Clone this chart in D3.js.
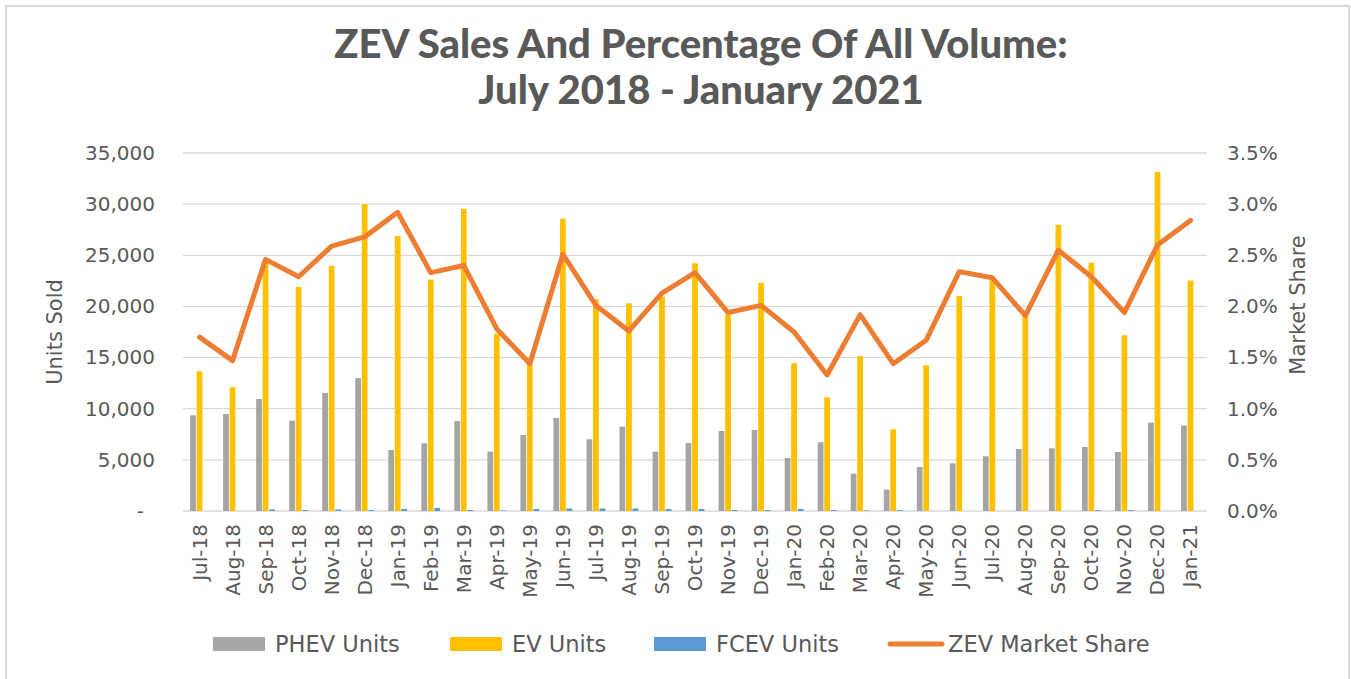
<!DOCTYPE html>
<html>
<head>
<meta charset="utf-8">
<script src="https://cdn.jsdelivr.net/npm/d3@7"></script>
<style>
  body { margin: 0; background: #fff; }
  .tick text { font-family: "DejaVu Sans", sans-serif; fill: #595959; }
</style>
</head>
<body>
<script>

// data
var months = ["Jul-18","Aug-18","Sep-18","Oct-18","Nov-18","Dec-18","Jan-19","Feb-19","Mar-19","Apr-19","May-19","Jun-19",
              "Jul-19","Aug-19","Sep-19","Oct-19","Nov-19","Dec-19","Jan-20","Feb-20","Mar-20","Apr-20","May-20","Jun-20",
              "Jul-20","Aug-20","Sep-20","Oct-20","Nov-20","Dec-20","Jan-21"];

var phevUnits = [9360, 9480, 10950, 8830, 11540, 13000, 5960, 6620, 8800, 5800, 7430, 9090,
                 7010, 8250, 5800, 6650, 7820, 7920, 5180, 6720, 3650, 2090, 4300, 4660,
                 5350, 6060, 6130, 6260, 5770, 8640, 8340];

var evUnits = [13660, 12090, 24300, 21900, 23950, 30010, 26890, 22620, 29530, 17340, 14400, 28580,
               20700, 20300, 20950, 24220, 19200, 22320, 14440, 11120, 15150, 7990, 14240, 21020,
               22580, 19500, 27990, 24280, 17180, 33140, 22520];

var fcevUnits = [0, 0, 150, 100, 150, 100, 200, 300, 100, 50, 200, 250,
                 250, 250, 200, 200, 100, 100, 200, 100, 50, 100, 0, 0,
                 0, 0, 0, 80, 80, 0, 0];

// ZEV market share, percent
var zevShare = [1.70, 1.47, 2.46, 2.29, 2.59, 2.68, 2.92, 2.33, 2.40, 1.78, 1.44, 2.51,
                2.01, 1.76, 2.13, 2.33, 1.94, 2.01, 1.75, 1.33, 1.92, 1.44, 1.67, 2.34,
                2.28, 1.91, 2.55, 2.29, 1.94, 2.60, 2.84];

var unitTicks = [0, 5000, 10000, 15000, 20000, 25000, 30000, 35000];
var shareTicks = [0, 0.5, 1.0, 1.5, 2.0, 2.5, 3.0, 3.5];

var seriesNames = ["PHEV Units", "EV Units", "FCEV Units"];
var seriesColors = ["#a5a5a5", "#ffc000", "#5b9bd5"];
var lineColor = "#ed7d31";

// build rows for the grouped bars
var rows = months.map(function(m, i) {
  return { month: m, values: [phevUnits[i], evUnits[i], fcevUnits[i]], share: zevShare[i] };
});

// dimensions
var W = 1351, H = 679;
var plot = {left: 183, right: 1207, top: 153, bottom: 511};

var svg = d3.select("body").append("svg")
    .attr("width", W)
    .attr("height", H);

// chart border
svg.append("rect")
    .attr("x", 6).attr("y", 6)
    .attr("width", 1343).attr("height", 700)
    .attr("fill", "#fff")
    .attr("stroke", "#d9d9d9")
    .attr("stroke-width", 2);

// scales
var x0 = d3.scaleBand().domain(months).range([plot.left, plot.right])
    .paddingInner(0.43).paddingOuter(0.215);
var x1 = d3.scaleBand().domain([0, 1, 2]).range([0, x0.bandwidth()]).paddingInner(0.12);
var yUnits = d3.scaleLinear().domain([0, 35000]).range([plot.bottom, plot.top]);
var yShare = d3.scaleLinear().domain([0, 3.5]).range([plot.bottom, plot.top]);

// gridlines
svg.append("g")
  .selectAll("line")
  .data(unitTicks)
  .enter().append("line")
    .attr("x1", plot.left).attr("x2", plot.right)
    .attr("y1", function(d) { return yUnits(d); })
    .attr("y2", function(d) { return yUnits(d); })
    .attr("stroke", "#d9d9d9")
    .attr("stroke-width", 1.3);

// left axis
var leftAxis = svg.append("g")
    .attr("transform", "translate(" + (plot.left - 28) + ",0)")
    .call(d3.axisLeft(yUnits).tickValues(unitTicks).tickSize(0).tickPadding(0)
      .tickFormat(function(d) { return d === 0 ? "-" : d3.format(",")(d); }));
leftAxis.select(".domain").remove();
leftAxis.selectAll("text").style("font-size", "20px");
leftAxis.selectAll(".tick text").filter(function(d) { return d === 0; }).attr("x", -11);

// right axis
var rightAxis = svg.append("g")
    .attr("transform", "translate(" + (plot.right + 20) + ",0)")
    .call(d3.axisRight(yShare).tickValues(shareTicks).tickSize(0).tickPadding(0)
      .tickFormat(function(d) { return d.toFixed(1) + "%"; }));
rightAxis.select(".domain").remove();
rightAxis.selectAll("text").style("font-size", "20px");

// bars
var groups = svg.append("g")
  .selectAll("g")
  .data(rows)
  .enter().append("g")
    .attr("transform", function(d) { return "translate(" + x0(d.month) + ",0)"; });

groups.selectAll("rect")
    .data(function(d) { return d.values.map(function(v, k) { return {k: k, v: v}; }); })
  .enter().append("rect")
    .attr("x", function(d) { return x1(d.k); })
    .attr("width", x1.bandwidth())
    .attr("y", function(d) { return yUnits(d.v); })
    .attr("height", function(d) { return yUnits(0) - yUnits(d.v); })
    .attr("fill", function(d) { return seriesColors[d.k]; });

// market share line
var shareLine = d3.line()
    .x(function(d) { return x0(d.month) + x0.bandwidth() / 2; })
    .y(function(d) { return yShare(d.share); });

svg.append("path")
    .datum(rows)
    .attr("d", shareLine)
    .attr("fill", "none")
    .attr("stroke", lineColor)
    .attr("stroke-width", 5)
    .attr("stroke-linejoin", "round")
    .attr("stroke-linecap", "round");

// x axis labels
var bottomAxis = svg.append("g")
    .attr("transform", "translate(0," + plot.bottom + ")")
    .call(d3.axisBottom(x0).tickSize(0).tickPadding(0));
bottomAxis.select(".domain").remove();
bottomAxis.selectAll("text")
    .style("font-size", "20px")
    .style("text-anchor", "end")
    .attr("x", -13)
    .attr("y", 0)
    .attr("dy", "0.35em")
    .attr("transform", "rotate(-90)");

// axis titles
svg.append("text")
    .attr("transform", "translate(62,332) rotate(-90)")
    .attr("text-anchor", "middle")
    .attr("font-family", "DejaVu Sans, sans-serif")
    .attr("font-size", 21)
    .attr("fill", "#595959")
    .text("Units Sold");

svg.append("text")
    .attr("transform", "translate(1305,305) rotate(-90)")
    .attr("text-anchor", "middle")
    .attr("font-family", "DejaVu Sans, sans-serif")
    .attr("font-size", 21)
    .attr("fill", "#595959")
    .text("Market Share");

// title
var title = svg.append("text")
    .attr("text-anchor", "middle")
    .attr("font-family", "Lato, sans-serif")
    .attr("font-weight", 900)
    .attr("font-size", 40)
    .attr("fill", "#595959");
title.append("tspan").attr("x", 701).attr("y", 58).text("ZEV Sales And Percentage Of All Volume:");
title.append("tspan").attr("x", 701).attr("y", 104).text("July 2018 - January 2021");

// legend
var legendItems = [
  {name: seriesNames[0], color: seriesColors[0], x: 213, type: "rect"},
  {name: seriesNames[1], color: seriesColors[1], x: 450, type: "rect"},
  {name: seriesNames[2], color: seriesColors[2], x: 654, type: "rect"},
  {name: "ZEV Market Share", color: lineColor, x: 888, type: "line"}
];

var legend = svg.append("g")
  .selectAll("g")
  .data(legendItems)
  .enter().append("g")
    .attr("transform", function(d) { return "translate(" + d.x + ",644)"; });

legend.filter(function(d) { return d.type === "rect"; })
  .append("rect")
    .attr("x", 0).attr("y", -7)
    .attr("width", 52).attr("height", 14)
    .attr("fill", function(d) { return d.color; });

legend.filter(function(d) { return d.type === "line"; })
  .append("line")
    .attr("x1", 2).attr("x2", 54)
    .attr("stroke", function(d) { return d.color; })
    .attr("stroke-width", 5)
    .attr("stroke-linecap", "round");

legend.append("text")
    .attr("x", function(d) { return d.type === "line" ? 60 : 62; })
    .attr("dy", "0.35em")
    .attr("font-family", "DejaVu Sans, sans-serif")
    .attr("font-size", 22.5)
    .attr("fill", "#595959")
    .text(function(d) { return d.name; });

</script>
</body>
</html>
